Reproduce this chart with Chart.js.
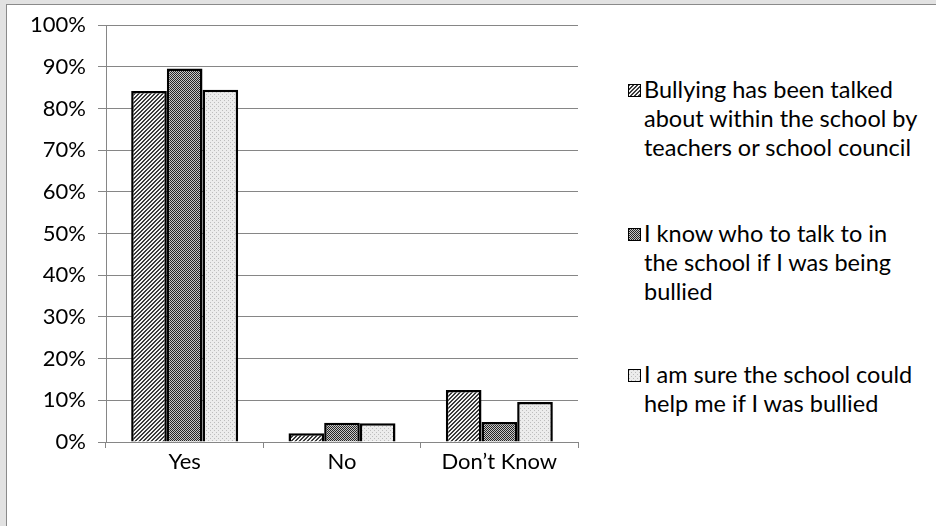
<!DOCTYPE html>
<html>
<head>
<meta charset="utf-8">
<script src="https://cdn.jsdelivr.net/npm/chart.js@4/dist/chart.umd.min.js"></script>
<style>
  html, body { margin: 0; padding: 0; }
  body { width: 936px; height: 526px; background: #e2e2e2; overflow: hidden; position: relative; font-family: Lato, "Open Sans", sans-serif; }
  #frame { position: absolute; left: 6px; top: 4px; width: 930px; height: 522px; background: #fff; border-left: 1px solid #8a8a8a; border-top: 1px solid #8a8a8a; }
  #wrap { position: absolute; left: 0; top: 0; width: 592px; height: 526px; }
  #legend { position: absolute; left: 628px; top: 0; width: 308px; font-size: 23.5px; color: #000; line-height: 29px; }
  .item { position: absolute; left: 0; display: flex; align-items: flex-start; white-space: nowrap; }
  .item canvas { flex: none; width: 13px; height: 13px; border: 1px solid #000; margin-top: 9px; margin-right: 3px; box-sizing: border-box; }
  .item span { display: block; }
</style>
</head>
<body>
<div id="frame"></div>
<div id="wrap"><canvas id="chart"></canvas></div>
<div id="legend"></div>
<script>
const categories = ["Yes", "No", "Don\u2019t Know"];
const seriesNames = [
  "Bullying has been talked about within the school by teachers or school council",
  "I know who to talk to in the school if I was being bullied",
  "I am sure the school could help me if I was bullied"
];
const seriesLines = [
  ["Bullying has been talked", "about within the school by", "teachers or school council"],
  ["I know who to talk to in", "the school if I was being", "bullied"],
  ["I am sure the school could", "help me if I was bullied"]
];
const talkedAbout = [84.2, 2.1, 12.5];
const knowWho = [89.6, 4.6, 4.8];
const schoolHelp = [84.5, 4.5, 9.6];
const yTicks = [0, 10, 20, 30, 40, 50, 60, 70, 80, 90, 100];

function makeTile(kind) {
  const c = document.createElement("canvas");
  c.width = 4; c.height = 4;
  const g = c.getContext("2d");
  if (kind === 0) {
    g.fillStyle = "#f2f2f2"; g.fillRect(0, 0, 4, 4);
    g.fillStyle = "#3a3a3a";
    for (let y = 0; y < 4; y++) {
      g.fillRect((3 - y + 4) % 4, y, 1, 1);
      g.fillRect((4 - y + 4) % 4, y, 1, 1);
    }
  } else if (kind === 1) {
    g.fillStyle = "#c8c8c8"; g.fillRect(0, 0, 4, 4);
    g.fillStyle = "#262626";
    for (let y = 0; y < 4; y++) for (let x = 0; x < 4; x++) {
      if ((x + y) % 2 === 0) g.fillRect(x, y, 1, 1);
    }
  } else {
    g.fillStyle = "#ececec"; g.fillRect(0, 0, 4, 4);
    g.fillStyle = "#bdbdbd";
    g.fillRect(0, 0, 1, 1); g.fillRect(2, 2, 1, 1);
  }
  return c;
}

const ctx = document.getElementById("chart").getContext("2d");
const patterns = [0, 1, 2].map(k => ctx.createPattern(makeTile(k), "repeat"));
const seriesData = [talkedAbout, knowWho, schoolHelp];

// legend on the right, wrapped like the original
const legend = document.getElementById("legend");
const itemTops = [75, 219, 360];
seriesLines.forEach((lines, i) => {
  const item = document.createElement("div");
  item.className = "item";
  item.style.top = itemTops[i] + "px";
  const sw = document.createElement("canvas");
  sw.width = 11; sw.height = 11;
  const sg = sw.getContext("2d");
  sg.fillStyle = sg.createPattern(makeTile(i), "repeat");
  sg.fillRect(0, 0, 11, 11);
  item.appendChild(sw);
  const txt = document.createElement("div");
  lines.forEach(l => {
    const s = document.createElement("span");
    s.textContent = l;
    txt.appendChild(s);
  });
  item.appendChild(txt);
  legend.appendChild(item);
});

new Chart(ctx, {
  type: "bar",
  data: {
    labels: categories,
    datasets: seriesData.map((d, i) => ({
      label: seriesNames[i],
      data: d,
      backgroundColor: patterns[i],
      borderColor: "#000",
      borderWidth: 2.5,
      categoryPercentage: 0.68,
      barPercentage: 1.0
    }))
  },
  options: {
    responsive: true,
    maintainAspectRatio: false,
    animation: false,
    layout: { padding: { top: 24, right: 14, left: 0, bottom: 0 } },
    plugins: { legend: { display: false }, tooltip: { enabled: false } },
    scales: {
      x: {
        grid: { drawOnChartArea: false, drawTicks: true, tickLength: 6, color: "#868686", offset: true },
        border: { color: "#868686" },
        ticks: { color: "#000", font: { family: "Lato", size: 22 }, padding: 1 },
        afterFit: s => { s.height = 84; }
      },
      y: {
        min: 0,
        max: 100,
        afterBuildTicks: s => { s.ticks = yTicks.map(v => ({ value: v })); },
        grid: { color: "#868686", tickLength: 8 },
        border: { color: "#868686" },
        ticks: { color: "#000", font: { family: "Lato", size: 22 }, padding: 12, callback: v => v + "%" },
        afterFit: s => { s.width = 106; }
      }
    }
  }
});
</script>
</body>
</html>
